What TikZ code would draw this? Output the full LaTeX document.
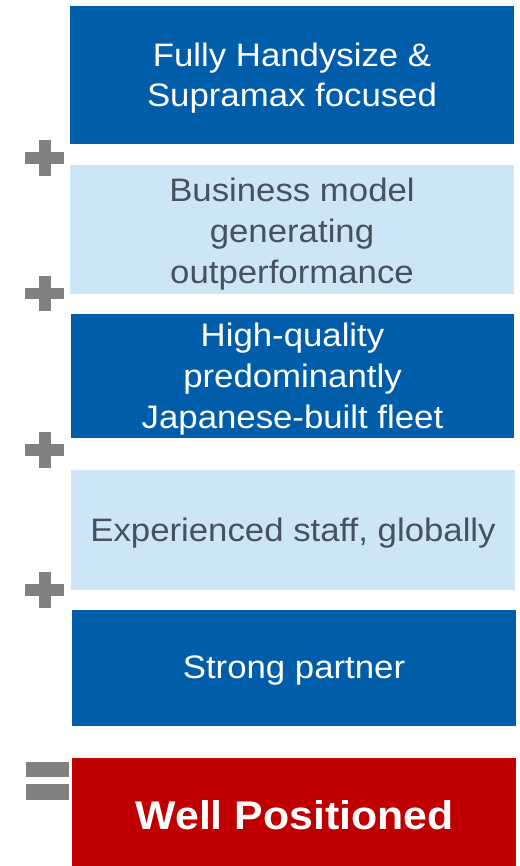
\documentclass[tikz,border=0pt]{standalone}
\usepackage{fontspec}
\setmainfont{Liberation Sans}
\newfontfamily\boxfont[FakeStretch=1.07]{Liberation Sans}
\newfontfamily\boxboldfont[FakeStretch=1.07]{Liberation Sans Bold}
\definecolor{darkblue}{HTML}{005DAA}
\definecolor{lightblue}{HTML}{CDE6F7}
\definecolor{redbox}{HTML}{C00000}
\definecolor{opgray}{HTML}{808080}
\definecolor{txtgray}{HTML}{46535E}
\begin{document}
\begin{tikzpicture}[x=1pt,y=-1pt,
  boxtext/.style={inner sep=0pt, align=center, font=\boxfont\fontsize{32.5}{41}\selectfont},
  darktext/.style={boxtext, text=white},
  lighttext/.style={boxtext, text=txtgray},
  resulttext/.style={inner sep=0pt, align=center, text=white, font=\boxboldfont\fontsize{40}{48}\selectfont}]
\useasboundingbox (0,0) rectangle (519,866);
% boxes
\fill[darkblue] (70,6) rectangle (514,144);
\node[darktext, font=\boxfont\fontsize{32.5}{40}\selectfont] (b1) at (292,78) {Fully Handysize \&\\Supramax focused};
\fill[lightblue] (70,165.5) rectangle (514,293.7);
\node[lighttext] (b2) at (292,234) {Business model\\generating\\outperformance};
\fill[darkblue] (71,313.5) rectangle (514,437.5);
\node[darktext] (b3) at (292.5,379.5) {High-quality\\predominantly\\Japanese-built fleet};
\fill[lightblue] (71,470) rectangle (515,589.7);
\node[lighttext] (b4) at (293,533) {Experienced staff, globally};
\fill[darkblue] (72,610) rectangle (516,725.7);
\node[darktext] (b5) at (294,671) {Strong partner};
\fill[redbox] (72,758) rectangle (516,866);
\node[resulttext] (b6) at (294.5,815) {Well Positioned};
% plus signs
\foreach \cy in {158,293.3,450,590}{
  \fill[opgray] (25.3,\cy-5.7) rectangle (64,\cy+5.7);
  \fill[opgray] (39.3,\cy-17.7) rectangle (50.7,\cy+17.7);
}
% equals sign
\fill[opgray] (26.3,761.7) rectangle (69,777);
\fill[opgray] (26.3,784.3) rectangle (69,799.7);
\end{tikzpicture}
\end{document}
